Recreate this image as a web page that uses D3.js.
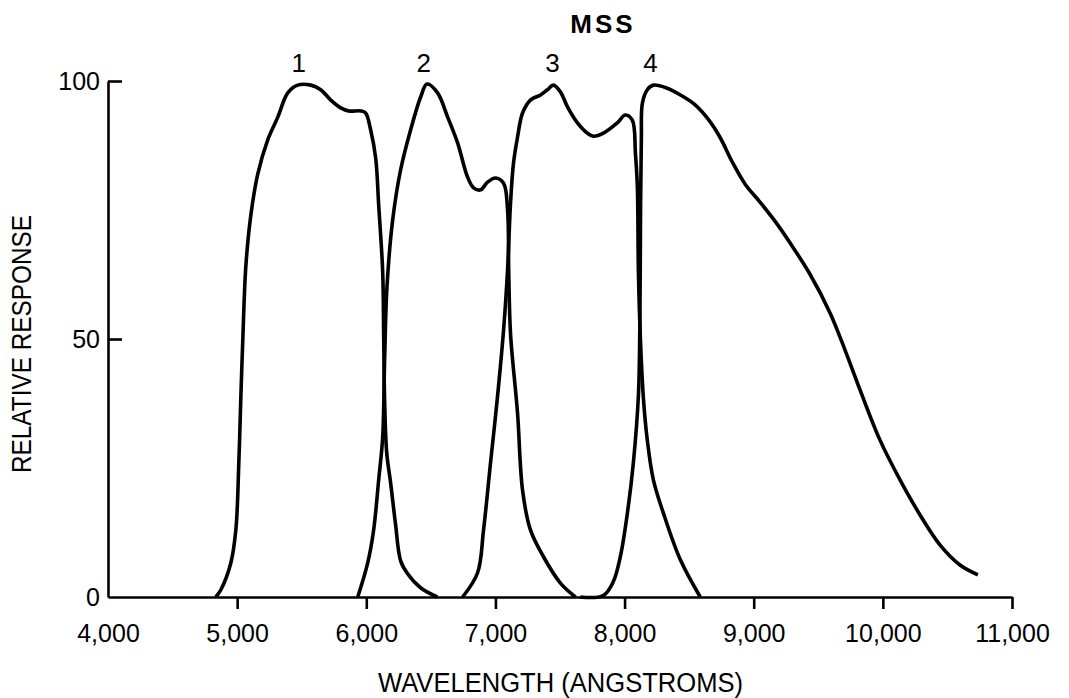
<!DOCTYPE html>
<html>
<head>
<meta charset="utf-8">
<script src="https://cdn.jsdelivr.net/npm/d3@7"></script>
<style>
  body { margin: 0; background: #fff; }
  svg { display: block; }
</style>
</head>
<body>
<svg id="chart" width="1069" height="698"></svg>
<script>
// wavelength (angstroms), relative response
const band1 = [[4835,0],[4874,1.4],[4951,6.6],[4990,13],[5013,26],[5029,39],[5044,50],[5067,64],[5106,74],
  [5160,82],[5237,88.6],[5315,93],[5392,97.7],[5469,99.2],[5570,99.2],[5647,98.3],[5725,96.3],[5802,94.8],
  [5864,94.2],[5957,94.2],[5995,93.8],[6034,90.5],[6073,85],[6096,76],[6127,63],[6135,50],[6142,38],
  [6158,28],[6189,22],[6227,14],[6266,7],[6320,4.5],[6420,1.8],[6550,0]];
const band2 = [[5934,0],[6011,6.6],[6057,13],[6096,22.7],[6127,31],[6142,46],[6160,60],[6204,73],[6266,82.8],
  [6343,90.5],[6421,96.9],[6470,99.4],[6552,97.7],[6630,93],[6707,88],[6784,81.4],[6831,79.3],[6885,78.9],
  [6939,80.4],[7001,81.2],[7063,80.2],[7094,75],[7103,63],[7117,51],[7171,35.7],[7210,20.7],[7271,13],
  [7372,7.8],[7503,2.7],[7620,0]];
const band3 = [[6746,0],[6862,4.7],[6908,13],[6962,26],[7016,38.8],[7063,51.7],[7094,63.4],[7117,76.4],
  [7140,84.1],[7171,89.1],[7210,93.8],[7271,96.3],[7349,97.3],[7403,98.3],[7449,99.2],[7503,97.9],
  [7558,95],[7635,91.9],[7712,89.9],[7759,89.3],[7836,89.9],[7944,91.9],[8006,93.4],[8060,92.4],
  [8084,86],[8099,79.5],[8107,63.4],[8122,50.4],[8145,38.8],[8176,30.4],[8223,22.7],[8300,16.3],
  [8432,7.2],[8586,0]];
const band4 = [[7658,0],[7836,0.3],[7913,3],[7967,7.8],[8022,16.3],[8068,26],[8107,39],[8118,52],
  [8124,76],[8130,89],[8138,95.7],[8176,98.3],[8223,99.2],[8331,98.6],[8432,97.3],[8540,95.5],
  [8650,92.5],[8741,89],[8830,84.5],[8934,80],[9050,76.5],[9166,72.8],[9282,68.6],[9437,62.5],[9592,55],
  [9708,47.8],[9824,40.1],[9978,30.4],[10133,22.7],[10288,15.9],[10442,10.1],[10597,6.2],[10736,4.3]];
const bands = [band1, band2, band3, band4];

const bandLabels = ["1", "2", "3", "4"];
const bandLabelWavelengths = [5477, 6444, 7442, 8200];

const xTicks = [4000, 5000, 6000, 7000, 8000, 9000, 10000, 11000];
const yTicks = [0, 50, 100];

const svg = d3.select("#chart");

const x = d3.scaleLinear().domain([4000, 11000]).range([108, 1012]);
const y = d3.scaleLinear().domain([0, 100]).range([597, 81]);

// x axis
const xAxis = svg.append("g")
  .attr("transform", `translate(0,${y(0)})`)
  .call(d3.axisBottom(x).tickValues(xTicks).tickFormat(d3.format(","))
    .tickSize(12).tickSizeOuter(0).tickPadding(15));
xAxis.selectAll(".tick").filter(d => d === 4000).select("line").remove();

// y axis, ticks point inward
const yAxis = svg.append("g")
  .attr("transform", `translate(${x(4000)},0)`)
  .call(d3.axisLeft(y).tickValues(yTicks).tickSize(-14).tickSizeOuter(0).tickPadding(8));
yAxis.selectAll(".tick").filter(d => d === 0).select("line").remove();

svg.selectAll(".domain, .tick line")
  .attr("stroke", "#000")
  .attr("stroke-width", 2.6);
svg.selectAll(".tick text")
  .attr("fill", "#000")
  .style("font-family", "'Liberation Sans', Arial, sans-serif")
  .style("font-size", "25px");

// response curves
const line = d3.line()
  .x(d => x(d[0]))
  .y(d => y(d[1]))
  .curve(d3.curveCatmullRom.alpha(0.5));

svg.append("g")
  .selectAll("path")
  .data(bands)
  .enter()
  .append("path")
  .attr("d", line)
  .attr("fill", "none")
  .attr("stroke", "#000")
  .attr("stroke-width", 3.6)
  .attr("stroke-linejoin", "round");

// band numbers
svg.append("g")
  .selectAll("text")
  .data(bandLabels)
  .enter()
  .append("text")
  .attr("x", (d, i) => x(bandLabelWavelengths[i]))
  .attr("y", y(100) - 9)
  .attr("text-anchor", "middle")
  .style("font-family", "'Liberation Sans', Arial, sans-serif")
  .style("font-size", "26px")
  .text(d => d);

// title
svg.append("text")
  .attr("x", 603)
  .attr("y", 33)
  .attr("text-anchor", "middle")
  .style("font-family", "'Liberation Sans', Arial, sans-serif")
  .style("font-size", "26px")
  .style("font-weight", "bold")
  .style("letter-spacing", "3px")
  .text("MSS");

// axis titles
svg.append("text")
  .attr("x", 378)
  .attr("y", 692)
  .attr("textLength", 365)
  .attr("lengthAdjust", "spacingAndGlyphs")
  .style("font-family", "'Liberation Sans', Arial, sans-serif")
  .style("font-size", "27px")
  .text("WAVELENGTH (ANGSTROMS)");

svg.append("text")
  .attr("transform", "translate(31,473) rotate(-90)")
  .attr("textLength", 258)
  .attr("lengthAdjust", "spacingAndGlyphs")
  .style("font-family", "'Liberation Sans', Arial, sans-serif")
  .style("font-size", "28px")
  .text("RELATIVE RESPONSE");
</script>
</body>
</html>
